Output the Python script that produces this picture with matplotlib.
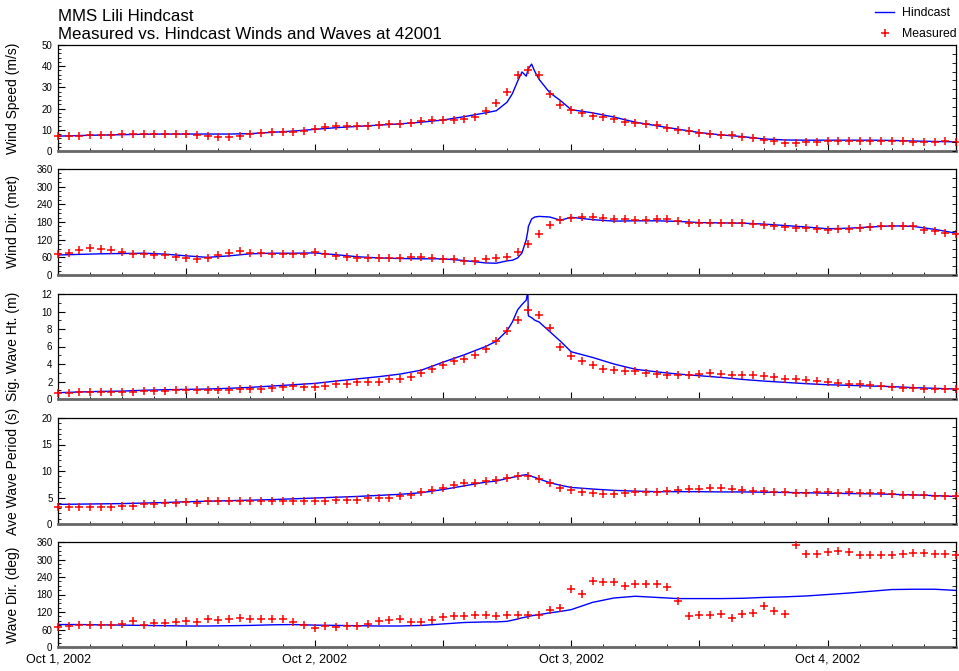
import matplotlib
matplotlib.use('Agg')
import matplotlib.pyplot as plt
import matplotlib.dates as mdates
import matplotlib.ticker as ticker
from datetime import datetime, timedelta

plt.rcParams['font.family'] = ['Liberation Sans', 'DejaVu Sans']

START = datetime(2002, 10, 1)
END_HOURS = 84

# buoy 42001 observations, hourly from Oct 1 00Z
obs_hours = list(range(85))
obs_wind_speed = [7.3, 7.3, 7.3, 7.4, 7.6, 7.6, 7.9, 7.8, 7.9, 8.1,
                  8.1, 8.1, 8.1, 7.6, 7.1, 6.8, 6.8, 7.1, 8.0, 8.4,
                  8.9, 8.9, 9.0, 9.5, 10.5, 11.1, 11.9, 11.9, 11.9, 11.9,
                  12.2, 12.7, 12.9, 13.2, 14.3, 14.4, 14.4, 14.8, 15.3, 16.1,
                  19.0, 22.5, 27.8, 35.9, 38.1, 35.9, 27.1, 21.9, 19.4, 17.8,
                  16.5, 15.9, 15.2, 13.8, 13.3, 12.9, 12.2, 11.0, 10.0, 9.5,
                  8.7, 7.9, 7.5, 7.5, 6.8, 6.2, 5.4, 4.6, 4.0, 4.0,
                  4.3, 4.4, 4.9, 4.9, 4.9, 4.9, 4.9, 4.9, 4.9, 4.6,
                  4.3, 4.3, 4.3, 4.6, 4.4]
obs_wind_dir = [70, 76, 85, 93, 89, 86, 78, 73, 70, 69,
                67, 62, 59, 56, 58, 67, 74, 81, 75, 75,
                73, 73, 73, 73, 77, 72, 66, 61, 59, 57,
                57, 57, 57, 61, 61, 57, 55, 53, 49, 47,
                53, 58, 61, 78, 104, 139, 170, 186, 193, 198,
                196, 194, 189, 189, 186, 187, 190, 190, 183, 176,
                175, 175, 176, 176, 175, 174, 170, 166, 162, 159,
                159, 157, 153, 156, 157, 160, 162, 165, 167, 165,
                166, 152, 149, 144, 140]
obs_wave_ht = [0.68, 0.68, 0.76, 0.8, 0.8, 0.8, 0.84, 0.84, 0.9, 0.95,
               0.95, 1.0, 1.06, 1.06, 1.06, 1.06, 1.06, 1.1, 1.18, 1.18,
               1.25, 1.33, 1.44, 1.37, 1.4, 1.52, 1.67, 1.71, 1.9, 1.98,
               2.0, 2.24, 2.28, 2.5, 2.97, 3.4, 3.9, 4.4, 4.6, 5.0,
               5.7, 6.6, 7.8, 9.0, 10.2, 9.6, 8.1, 5.9, 4.9, 4.3,
               3.85, 3.4, 3.35, 3.2, 3.2, 3.0, 2.85, 2.8, 2.7, 2.8,
               2.9, 3.0, 2.85, 2.8, 2.8, 2.7, 2.66, 2.5, 2.3, 2.24,
               2.17, 2.1, 1.98, 1.83, 1.71, 1.67, 1.6, 1.48, 1.37, 1.25,
               1.22, 1.18, 1.14, 1.1, 1.14]
obs_period = [3.2, 3.2, 3.2, 3.3, 3.3, 3.3, 3.4, 3.4, 3.7, 3.7,
              3.9, 3.9, 4.1, 4.0, 4.3, 4.3, 4.35, 4.4, 4.4, 4.35,
              4.3, 4.35, 4.35, 4.4, 4.3, 4.35, 4.5, 4.55, 4.6, 4.9,
              4.9, 5.0, 5.2, 5.55, 6.0, 6.4, 6.8, 7.3, 7.7, 7.8,
              8.1, 8.3, 8.7, 9.0, 9.1, 8.5, 7.7, 6.75, 6.4, 6.0,
              5.8, 5.7, 5.7, 5.9, 6.1, 6.1, 6.0, 6.2, 6.4, 6.6,
              6.6, 6.7, 6.7, 6.6, 6.4, 6.3, 6.2, 6.05, 6.0, 5.9,
              5.9, 5.95, 5.95, 5.9, 5.95, 5.8, 5.8, 5.85, 5.7, 5.55,
              5.5, 5.4, 5.35, 5.3, 5.3]
obs_wave_dir = [67, 71, 77, 75, 75, 77, 79, 90, 77, 83,
                83, 86, 88, 86, 96, 94, 95, 98, 97, 96,
                96, 96, 86, 75, 64, 71, 67, 71, 72, 80,
                90, 94, 95, 85, 86, 93, 102, 105, 107, 109,
                109, 107, 109, 109, 110, 111, 128, 134, 200, 182,
                226, 223, 222, 208, 217, 217, 217, 206, 157, 105,
                109, 111, 113, 99, 113, 117, 142, 125, 112, 351,
                319, 320, 326, 330, 327, 314, 314, 314, 315, 319,
                322, 323, 320, 319, 317]

# hindcast output hours (denser around the storm peak)
hc_hours = (list(range(0, 41, 2))
            + [41, 42, 42.5, 43, 43.4, 43.8, 43.95, 44.0, 44.3, 44.6, 45, 46, 47, 48]
            + list(range(50, 85, 2)))
hc_wind_speed = [7.0, 7.3, 7.5, 7.7, 7.9, 8.0, 8.0, 8.0, 8.0, 8.2, 8.8,
                 9.4, 10.2, 11.0, 11.6, 12.2, 12.8, 13.6, 14.6, 16.2, 18.0,
                 19.0, 23.0, 27.0, 33.0, 37.3, 35.3, 38.0, 38.8, 41.0, 37.5,
                 33.8, 27.5, 23.8, 19.5,
                 18.0, 16.0, 13.6, 11.9, 10.3, 8.7, 7.6, 6.8, 5.7, 5.2,
                 5.1, 5.1, 5.1, 5.1, 5.0, 4.7, 4.5, 4.3]
hc_wind_dir = [68, 70, 72, 73, 74, 71, 65, 60, 65, 72, 74,
               74, 75, 69, 62, 58, 56, 55, 55, 49, 41,
               40, 48, 50, 58, 75, 120, 150, 165, 190, 197,
               199, 197, 186, 196,
               188, 183, 184, 184, 182, 178, 177, 176, 173, 168,
               163, 157, 159, 163, 167, 165, 155, 142]
hc_wave_ht = [0.72, 0.8, 0.87, 0.9, 1.0, 1.06, 1.1, 1.14, 1.22, 1.33, 1.48,
              1.63, 1.78, 2.05, 2.3, 2.55, 2.85, 3.3, 4.2, 5.05, 6.0,
              6.6, 7.8, 8.8, 10.2, 10.8, 11.3, 12.3, 9.5, 9.3, 9.0,
              8.8, 7.7, 6.6, 5.4,
              4.75, 4.0, 3.4, 3.1, 2.85, 2.66, 2.47, 2.24, 2.05, 1.9,
              1.75, 1.63, 1.56, 1.48, 1.42, 1.3, 1.22, 1.14]
hc_period = [3.7, 3.75, 3.8, 3.85, 3.95, 4.05, 4.2, 4.3, 4.4, 4.5, 4.6,
             4.75, 4.9, 5.05, 5.2, 5.4, 5.6, 5.9, 6.5, 7.2, 7.9,
             8.1, 8.6, 8.8, 9.0, 9.2, 9.3, 9.25, 9.2, 9.0, 8.8,
             8.5, 7.8, 7.3, 6.9,
             6.6, 6.35, 6.2, 6.1, 6.1, 6.1, 6.05, 6.05, 6.0, 5.95,
             5.9, 5.8, 5.75, 5.7, 5.6, 5.5, 5.35, 5.2]
hc_wave_dir = [77, 77, 76, 75, 74, 73, 72, 72, 73, 74, 76,
               77, 75, 74, 73, 72, 72, 74, 79, 84, 86,
               86, 88, 92, 96, 100, 103, 104, 105, 107, 109,
               111, 117, 122, 128,
               153, 168, 174, 170, 166, 166, 166, 167, 170, 172,
               175, 180, 185, 191, 197, 198, 198, 194]

# (label, measured, hindcast, ymax, major step, minor step)
panels = [
    ('Wind Speed (m/s)', obs_wind_speed, hc_wind_speed, 50, 10, 2),
    ('Wind Dir. (met)', obs_wind_dir, hc_wind_dir, 360, 60, 15),
    ('Sig. Wave Ht. (m)', obs_wave_ht, hc_wave_ht, 12, 2, 1),
    ('Ave Wave Period (s)', obs_period, hc_period, 20, 5, 1),
    ('Wave Dir. (deg)', obs_wave_dir, hc_wave_dir, 360, 60, 15),
]

obs_t = [START + timedelta(hours=h) for h in obs_hours]
hc_t = [START + timedelta(hours=h) for h in hc_hours]

W, H = 959, 671
fig = plt.figure(figsize=(W / 100, H / 100), dpi=100)

left, right = 58, 956
tops = [45, 169, 294, 418, 542]
bottoms = [151, 275, 399, 524, 647]


def date_label(x, pos):
    d = mdates.num2date(x)
    if d.hour != 0:
        return ''
    return '%s %d, %d' % (d.strftime('%b'), d.day, d.year)


for i, (label, meas, hind, ymax, major, minor) in enumerate(panels):
    ax = fig.add_axes([left / W, 1 - bottoms[i] / H,
                       (right - left) / W, (bottoms[i] - tops[i]) / H])
    hl, = ax.plot(hc_t, hind, color='#0000ff', lw=1.0, zorder=2)
    ml, = ax.plot(obs_t, meas, '+', color='#ff0000', ms=6, mew=1.1,
                  clip_on=False, zorder=3)

    ax.set_xlim(START, START + timedelta(hours=END_HOURS))
    ax.set_ylim(0, ymax)
    ax.yaxis.set_major_locator(ticker.MultipleLocator(major))
    ax.yaxis.set_minor_locator(ticker.MultipleLocator(minor))
    ax.xaxis.set_major_locator(mdates.HourLocator(byhour=[0, 12]))
    ax.xaxis.set_minor_locator(mdates.HourLocator(interval=3))
    ax.xaxis.set_major_formatter(ticker.FuncFormatter(date_label))
    if i < len(panels) - 1:
        ax.tick_params(axis='x', labelbottom=False)

    ax.tick_params(which='both', direction='in', top=False, right=False,
                   color='black')
    ax.tick_params(which='major', length=5, width=0.8)
    ax.tick_params(which='minor', length=2.5, width=0.6)
    ax.tick_params(axis='y', labelsize=7, pad=4)
    ax.tick_params(axis='x', labelsize=9, pad=5)

    for side in ['top', 'left', 'right']:
        ax.spines[side].set_linewidth(0.9)
        ax.spines[side].set_color('black')
    ax.spines['bottom'].set_linewidth(2.0)
    ax.spines['bottom'].set_color('#666666')

    ax.set_ylabel(label, fontsize=10)
    ax.yaxis.set_label_coords(-0.042, 0.5)

    # unlabelled right-hand scale, twelve divisions
    ax2 = ax.twinx()
    ax2.set_ylim(0, 12)
    ax2.yaxis.set_major_locator(ticker.MultipleLocator(1))
    ax2.tick_params(direction='in', length=3, width=0.6, labelright=False)
    for side in ['top', 'left', 'bottom', 'right']:
        ax2.spines[side].set_visible(False)

fig.text(left / W, 1 - 21 / H, 'MMS Lili Hindcast', fontsize=12.2,
         va='baseline', ha='left')
fig.text(left / W, 1 - 39 / H, 'Measured vs. Hindcast Winds and Waves at 42001',
         fontsize=12.2, va='baseline', ha='left')

fig.legend([hl, ml], ['Hindcast', 'Measured'], loc='upper right',
           bbox_to_anchor=(957 / W, 1 - 7 / H), frameon=False, fontsize=8.8,
           handlelength=1.5, handletextpad=0.7, labelspacing=0.75,
           borderaxespad=0, borderpad=0)

fig.savefig('out.png', dpi=100)
